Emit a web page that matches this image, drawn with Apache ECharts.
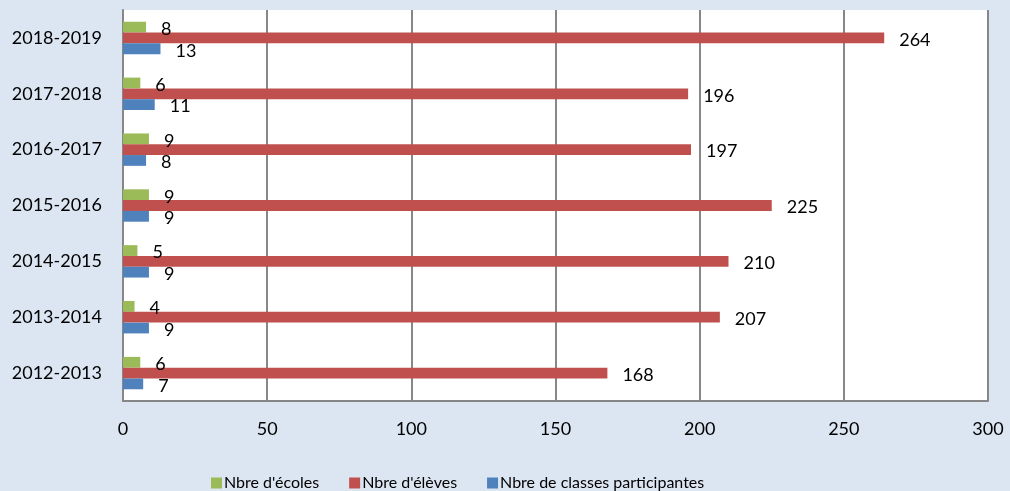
<!DOCTYPE html>
<html><head><meta charset="utf-8">
<script src="https://cdn.jsdelivr.net/npm/echarts@6/dist/echarts.min.js"></script>
<style>html,body{margin:0;padding:0;background:#dce6f2;}#c{width:1010px;height:491px;}</style>
</head><body><div id="c"></div>
<script>
var categories = ['2012-2013','2013-2014','2014-2015','2015-2016','2016-2017','2017-2018','2018-2019'];
var ecoles = [6,4,5,9,9,6,8];
var eleves = [168,207,210,225,197,196,264];
var classes = [7,9,9,9,8,11,13];
var xTicks = [0,50,100,150,200,250,300];

var font = 'Lato, "Open Sans", sans-serif';
var chart = echarts.init(document.getElementById('c'));
function lbl(){return {show:true,position:'right',distance:15,offset:[0,2],color:'#000',fontSize:18,fontFamily:font};}
chart.setOption({
  backgroundColor:'#dce6f2',
  animation:false,
  grid:{left:123,right:22,top:10,bottom:90,show:true,backgroundColor:'#ffffff',borderWidth:0},
  xAxis:{type:'value',min:xTicks[0],max:xTicks[xTicks.length-1],interval:50,
    axisLine:{show:true,lineStyle:{color:'#878787',width:2}},
    axisTick:{show:false},
    axisLabel:{color:'#000',fontSize:18,fontFamily:font,margin:19},
    splitLine:{show:true,lineStyle:{color:'#878787',width:2}}},
  yAxis:{type:'category',data:categories,
    axisLine:{show:true,lineStyle:{color:'#878787',width:2}},
    axisTick:{show:false},
    axisLabel:{color:'#000',fontSize:18,fontFamily:font,margin:21}},
  legend:{left:206,top:470,itemWidth:11,itemHeight:11,itemGap:30,icon:'rect',
    textStyle:{color:'#000',fontSize:16,fontFamily:font,padding:[0,0,0,-3]}},
  series:[
    {name:"Nbre d'écoles",type:'bar',data:ecoles,itemStyle:{color:'#9bbb59'},barGap:'0%',barCategoryGap:'42%',label:lbl()},
    {name:"Nbre d'élèves",type:'bar',data:eleves,itemStyle:{color:'#c0504d'},label:lbl()},
    {name:'Nbre de classes participantes',type:'bar',data:classes,itemStyle:{color:'#4f81bd'},label:lbl()}
  ]
});
</script></body></html>
